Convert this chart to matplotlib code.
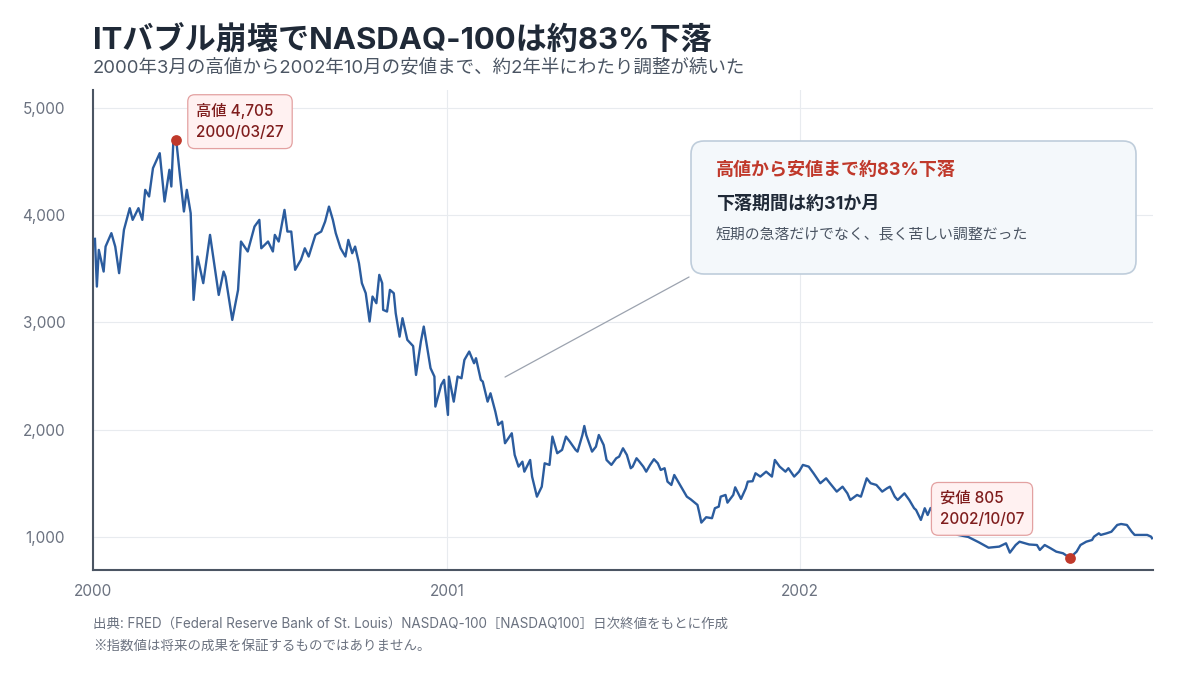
import matplotlib
matplotlib.use("Agg")
import matplotlib.pyplot as plt
import matplotlib.dates as mdates
import pandas as pd
from matplotlib.patches import FancyBboxPatch
from matplotlib.ticker import FixedLocator, FuncFormatter

plt.rcParams['font.family'] = ['Inter', 'Noto Sans CJK JP', 'DejaVu Sans']

# ---- data (NASDAQ-100 close) ----
dates = [
    "2000-01-03", "2000-01-05", "2000-01-07", "2000-01-12", "2000-01-14", "2000-01-20", "2000-01-24",
    "2000-01-28", "2000-02-02", "2000-02-08", "2000-02-11", "2000-02-17", "2000-02-21", "2000-02-24",
    "2000-02-28", "2000-03-03", "2000-03-10", "2000-03-15", "2000-03-20", "2000-03-22", "2000-03-24",
    "2000-03-27", "2000-03-31", "2000-04-04", "2000-04-07", "2000-04-11", "2000-04-14", "2000-04-18",
    "2000-04-24", "2000-05-01", "2000-05-05", "2000-05-10", "2000-05-15", "2000-05-17", "2000-05-24",
    "2000-05-30", "2000-06-02", "2000-06-09", "2000-06-16", "2000-06-21", "2000-06-23", "2000-06-30",
    "2000-07-05", "2000-07-07", "2000-07-11", "2000-07-17", "2000-07-20", "2000-07-24", "2000-07-28",
    "2000-08-03", "2000-08-07", "2000-08-11", "2000-08-18", "2000-08-24", "2000-08-28", "2000-09-01",
    "2000-09-05", "2000-09-08", "2000-09-13", "2000-09-18", "2000-09-21", "2000-09-25", "2000-09-28",
    "2000-10-02", "2000-10-05", "2000-10-09", "2000-10-13", "2000-10-16", "2000-10-20", "2000-10-23",
    "2000-10-26", "2000-10-27", "2000-10-31", "2000-11-03", "2000-11-07", "2000-11-09", "2000-11-13",
    "2000-11-16", "2000-11-21", "2000-11-27", "2000-11-30", "2000-12-05", "2000-12-08", "2000-12-15",
    "2000-12-19", "2000-12-20", "2000-12-26", "2000-12-29",
    "2001-01-02", "2001-01-03", "2001-01-08", "2001-01-12", "2001-01-16", "2001-01-19", "2001-01-24",
    "2001-01-29", "2001-01-31", "2001-02-05", "2001-02-07", "2001-02-12", "2001-02-15", "2001-02-20",
    "2001-02-23", "2001-02-27", "2001-03-02", "2001-03-09", "2001-03-12", "2001-03-16", "2001-03-20",
    "2001-03-22", "2001-03-28", "2001-03-30", "2001-04-04", "2001-04-09", "2001-04-12", "2001-04-17",
    "2001-04-20", "2001-04-25", "2001-04-30", "2001-05-04", "2001-05-08", "2001-05-14", "2001-05-16",
    "2001-05-21", "2001-05-23", "2001-05-25", "2001-05-31", "2001-06-04", "2001-06-07", "2001-06-12",
    "2001-06-15", "2001-06-20", "2001-06-25", "2001-06-28", "2001-07-02", "2001-07-06", "2001-07-10",
    "2001-07-12", "2001-07-16", "2001-07-19", "2001-07-23", "2001-07-26", "2001-07-30", "2001-08-03",
    "2001-08-07", "2001-08-10", "2001-08-14", "2001-08-17", "2001-08-21", "2001-08-24", "2001-08-31",
    "2001-09-06", "2001-09-10", "2001-09-17", "2001-09-19", "2001-09-21", "2001-09-26", "2001-10-02",
    "2001-10-05", "2001-10-09", "2001-10-11", "2001-10-16", "2001-10-18", "2001-10-24", "2001-10-26",
    "2001-11-01", "2001-11-06", "2001-11-08", "2001-11-13", "2001-11-16", "2001-11-21", "2001-11-27",
    "2001-12-03", "2001-12-06", "2001-12-11", "2001-12-17", "2001-12-20", "2001-12-26", "2001-12-31",
    "2002-01-04", "2002-01-10", "2002-01-15", "2002-01-22", "2002-01-28", "2002-02-01", "2002-02-08",
    "2002-02-14", "2002-02-19", "2002-02-22", "2002-03-01", "2002-03-05", "2002-03-11", "2002-03-15",
    "2002-03-21", "2002-03-27", "2002-04-01", "2002-04-04", "2002-04-09", "2002-04-12", "2002-04-19",
    "2002-04-24", "2002-04-29", "2002-05-01", "2002-05-06", "2002-05-10", "2002-05-13", "2002-05-16",
    "2002-05-24", "2002-06-03", "2002-06-13", "2002-06-24", "2002-07-05", "2002-07-15", "2002-07-26",
    "2002-08-02", "2002-08-06", "2002-08-12", "2002-08-16", "2002-08-26", "2002-09-03", "2002-09-06",
    "2002-09-11", "2002-09-17", "2002-09-23", "2002-09-30", "2002-10-04", "2002-10-07", "2002-10-14",
    "2002-10-18", "2002-10-24", "2002-10-30", "2002-11-01", "2002-11-06", "2002-11-08", "2002-11-14",
    "2002-11-19", "2002-11-25", "2002-11-29", "2002-12-05", "2002-12-10", "2002-12-13", "2002-12-20",
    "2002-12-26", "2002-12-30", "2002-12-31",
]
values = [
    3780, 3335, 3677, 3475, 3708, 3833, 3708,
    3460, 3864, 4066, 3957, 4066, 3957, 4237,
    4175, 4439, 4579, 4128, 4424, 4268, 4672,
    4705, 4361, 4035, 4237, 4019, 3211, 3615,
    3367, 3817, 3568, 3257, 3475, 3428, 3024,
    3304, 3755, 3662, 3895, 3957, 3692, 3755,
    3662, 3817, 3755, 4050, 3848, 3848, 3491,
    3584, 3692, 3615, 3817, 3848, 3941, 4081,
    3957, 3833, 3692, 3615, 3770, 3646, 3708,
    3553, 3367, 3273, 3009, 3242, 3180, 3444,
    3367, 3118, 3102, 3304, 3273, 3086, 2868,
    3040, 2838, 2780, 2511, 2822, 2962, 2574,
    2496, 2216, 2418, 2465,
    2138, 2496, 2262, 2496, 2480, 2651, 2729,
    2620, 2667, 2465, 2449, 2262, 2340, 2169,
    2045, 2076, 1874, 1967, 1765, 1656, 1702,
    1609, 1718, 1563, 1376, 1469, 1687, 1672,
    1936, 1781, 1812, 1936, 1889, 1812, 1796,
    1950, 2035, 1951, 1796, 1842, 1951, 1858,
    1718, 1672, 1734, 1749, 1827, 1765, 1641,
    1656, 1734, 1702, 1656, 1609, 1672, 1725,
    1687, 1625, 1641, 1516, 1485, 1578, 1469,
    1376, 1351, 1299, 1221, 1134, 1184, 1175,
    1268, 1283, 1376, 1392, 1320, 1392, 1463,
    1355, 1454, 1516, 1520, 1594, 1563, 1609,
    1563, 1718, 1656, 1609, 1641, 1563, 1609,
    1672, 1656, 1594, 1501, 1547, 1501, 1423,
    1469, 1407, 1345, 1392, 1376, 1547, 1501,
    1485, 1423, 1454, 1469, 1376, 1345, 1407,
    1345, 1268, 1252, 1159, 1268, 1205, 1270,
    1150, 1080, 1020, 1000, 950, 900, 910,
    941, 854, 925, 956, 930, 925, 879,
    925, 895, 863, 848, 823, 805, 863,
    925, 956, 972, 1003, 1034, 1019, 1034,
    1049, 1112, 1121, 1112, 1049, 1019, 1019,
    1019, 1003, 988,
]

peak_date, peak_value = "2000-03-27", 4705
low_date, low_value = "2002-10-07", 805
y_ticks = [1000, 2000, 3000, 4000, 5000]
x_ticks = ["2000-01-01", "2001-01-01", "2002-01-01"]

title = "ITバブル崩壊でNASDAQ-100は約83%下落"
subtitle = "2000年3月の高値から2002年10月の安値まで、約2年半にわたり調整が続いた"
peak_label = "高値 4,705\n2000/03/27"
low_label = "安値 805\n2002/10/07"
callout_1 = "高値から安値まで約83%下落"
callout_2 = "下落期間は約31か月"
callout_3 = "短期の急落だけでなく、長く苦しい調整だった"
source_1 = "出典: FRED（Federal Reserve Bank of St. Louis）NASDAQ-100［NASDAQ100］日次終値をもとに作成"
source_2 = "※指数値は将来の成果を保証するものではありません。"

LINE = "#2b5c9e"
RED = "#c0392b"
DARK = "#1f2937"
GRAY = "#6b7280"

fig = plt.figure(figsize=(12, 6.75), dpi=100)
W, H = 1200, 675
ax = fig.add_axes([93 / W, 1 - 570 / H, (1153 - 93) / W, (570 - 90) / H])

d = pd.to_datetime(dates)
ax.plot(d, values, color=LINE, lw=1.7, zorder=3, solid_joinstyle='round')

pk = pd.Timestamp(peak_date)
lw_ = pd.Timestamp(low_date)
ax.scatter([pk, lw_], [peak_value, low_value], s=60, color=RED, zorder=6, linewidths=0)

ax.set_xlim(pd.Timestamp("2000-01-01"), pd.Timestamp("2003-01-01"))
ax.set_ylim(692, 5168)
ax.yaxis.set_major_locator(FixedLocator(y_ticks))
ax.yaxis.set_major_formatter(FuncFormatter(lambda v, p: f"{v:,.0f}"))
ax.xaxis.set_major_locator(FixedLocator(mdates.date2num(pd.to_datetime(x_ticks))))
ax.xaxis.set_major_formatter(mdates.DateFormatter('%Y'))

ax.grid(True, color='#e8ebef', lw=0.8)
ax.set_axisbelow(True)
for s in ['top', 'right']:
    ax.spines[s].set_visible(False)
for s in ['left', 'bottom']:
    ax.spines[s].set_color('#4b5563')
    ax.spines[s].set_linewidth(1.5)
ax.tick_params(axis='both', length=0, labelsize=11, labelcolor=GRAY)
ax.tick_params(axis='y', pad=20)
ax.tick_params(axis='x', pad=10)

# point labels
box_kw = dict(boxstyle='round,pad=0.55,rounding_size=0.45', fc='#fff1f1', ec='#e3a1a1', lw=0.9)
ax.annotate(peak_label, xy=(pk, peak_value), xytext=(20, 18), textcoords='offset pixels',
            ha='left', va='center', fontsize=11, fontweight='medium', color='#7f1d1d',
            linespacing=1.5, bbox=box_kw, zorder=7)
ax.annotate(low_label, xy=(lw_, low_value), xytext=(-130, 49), textcoords='offset pixels',
            ha='left', va='center', fontsize=11, fontweight='medium', color='#7f1d1d',
            linespacing=1.5, bbox=box_kw, zorder=7)

# leader line + callout
ax.annotate('', xy=(0.3887, 0.402), xycoords='axes fraction',
            xytext=(0.5623, 0.6104), textcoords='axes fraction',
            arrowprops=dict(arrowstyle='-', color='#9ca3af', lw=0.9, shrinkA=0, shrinkB=0))

callout = FancyBboxPatch((6.91, (H - 274) / 100), 4.45, 1.33,
                         boxstyle='round,pad=0,rounding_size=0.13',
                         transform=fig.dpi_scale_trans, fc='#f4f8fb', ec='#bfcddb', lw=1.2, zorder=8)
fig.add_artist(callout)
fig.text(716 / W, 1 - 170 / H, callout_1, fontsize=13, fontweight='bold', color=RED,
         ha='left', va='center', zorder=9)
fig.text(716 / W, 1 - 204 / H, callout_2, fontsize=13, fontweight='bold', color=DARK,
         ha='left', va='center', zorder=9)
fig.text(716 / W, 1 - 235 / H, callout_3, fontsize=10.7, color='#4b5563',
         ha='left', va='center', zorder=9)

# titles
fig.text(93 / W, 1 - 40 / H, title, fontsize=22.4, fontweight='bold', color=DARK, ha='left', va='center')
fig.text(93 / W, 1 - 68 / H, subtitle, fontsize=13.3, color='#4b5563', ha='left', va='center')

# footer
fig.text(93 / W, 1 - 624 / H, source_1, fontsize=9.7, color=GRAY, ha='left', va='center')
fig.text(93 / W, 1 - 646 / H, source_2, fontsize=9.7, color=GRAY, ha='left', va='center',
         family=['Noto Sans CJK JP', 'DejaVu Sans'])

fig.savefig('out.png', dpi=100, facecolor='white')
